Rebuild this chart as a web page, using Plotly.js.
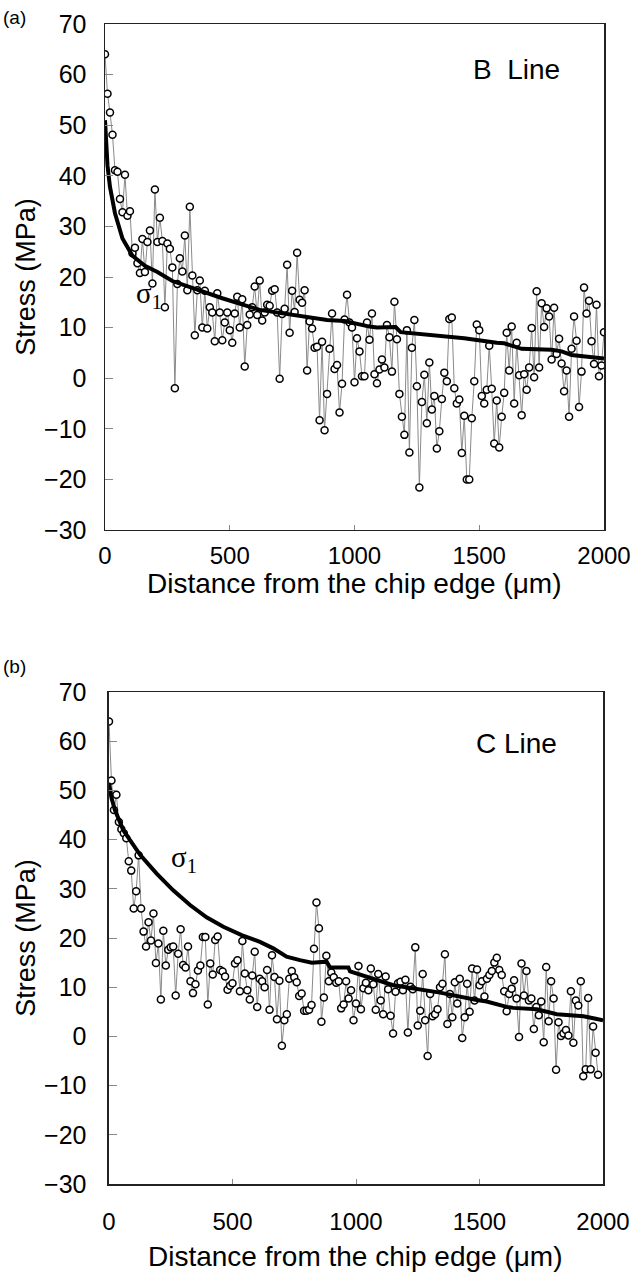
<!DOCTYPE html>
<html>
<head>
<meta charset="utf-8">
<script src="https://cdn.plot.ly/plotly-3.0.1.min.js"></script>
<style>html,body{margin:0;padding:0;background:#fff;}#chart{width:634px;height:1285px;}</style>
</head>
<body>
<div id="chart"></div>
<script>
// Distance from the chip edge (µm) at each measurement point
const distance = [
  0,10,20,30,40,50,60,70,80,90,
  100,110,120,130,140,150,160,170,180,190,
  200,210,220,230,240,250,260,270,280,290,
  300,310,320,330,340,350,360,370,380,390,
  400,410,420,430,440,450,460,470,480,490,
  500,510,520,530,540,550,560,570,580,590,
  600,610,620,630,640,650,660,670,680,690,
  700,710,720,730,740,750,760,770,780,790,
  800,810,820,830,840,850,860,870,880,890,
  900,910,920,930,940,950,960,970,980,990,
  1000,1010,1020,1030,1040,1050,1060,1070,1080,1090,
  1100,1110,1120,1130,1140,1150,1160,1170,1180,1190,
  1200,1210,1220,1230,1240,1250,1260,1270,1280,1290,
  1300,1310,1320,1330,1340,1350,1360,1370,1380,1390,
  1400,1410,1420,1430,1440,1450,1460,1470,1480,1490,
  1500,1510,1520,1530,1540,1550,1560,1570,1580,1590,
  1600,1610,1620,1630,1640,1650,1660,1670,1680,1690,
  1700,1710,1720,1730,1740,1750,1760,1770,1780,1790,
  1800,1810,1820,1830,1840,1850,1860,1870,1880,1890,
  1900,1910,1920,1930,1940,1950,1960,1970,1980,1990,
  2000
];

// (a) B Line measured stress (MPa)
const stressB = [
  64.0,56.2,52.5,48.1,41.1,40.8,35.4,32.8,40.2,32.1,
  33.0,24.7,25.8,22.7,20.8,27.5,21.0,26.9,29.2,18.7,
  37.3,26.9,31.7,27.1,14.0,26.6,25.6,21.9,-2.0,18.6,
  23.7,21.1,28.2,17.4,33.9,20.3,8.5,17.4,19.3,10.0,
  17.3,9.8,14.0,13.0,7.3,16.8,13.0,7.5,11.0,13.0,
  9.5,7.0,12.8,16.1,10.0,15.6,2.3,10.5,12.6,14.0,
  18.1,12.5,19.3,11.4,13.0,14.5,14.3,17.3,17.6,13.0,
  -0.1,12.7,13.7,22.4,9.0,17.3,13.1,24.8,15.5,14.9,
  17.4,1.5,11.2,9.8,6.0,6.2,-8.3,7.2,-10.3,-3.1,
  5.8,12.8,1.8,2.6,-6.8,-1.1,11.6,16.5,11.0,10.0,
  -0.8,7.9,5.3,0.4,0.4,11.0,7.6,12.8,0.8,-1.0,
  1.7,3.7,2.1,10.5,8.1,1.3,15.1,7.7,-3.1,-7.6,
  -11.2,9.5,-14.7,6.0,11.5,-1.6,-21.6,-4.7,0.7,-8.9,
  3.1,-6.2,-3.5,-13.9,-10.5,-4.1,1.1,-0.6,11.7,12.0,
  -2.0,-5.0,-4.2,-14.8,-7.4,-20.0,-20.0,-7.9,-0.6,10.6,
  9.5,-3.5,-5.0,-2.3,6.4,-2.1,-12.9,-4.4,-13.7,-7.6,
  -2.9,9.0,1.5,10.2,-5.0,7.0,0.6,-7.3,0.8,-2.3,
  2.1,9.9,0.2,17.2,2.1,14.8,10.1,13.8,12.2,3.7,
  13.9,4.8,7.8,2.9,-2.6,1.5,-7.6,5.8,12.2,7.4,
  -5.7,1.3,17.9,12.8,15.3,7.3,2.8,14.5,0.4,2.5,
  9.1
];

// (b) C Line measured stress (MPa)
const stressC = [
  64.0,52.0,46.0,49.1,43.6,42.1,41.3,40.3,35.6,33.7,
  26.0,29.5,36.8,26.0,21.3,18.3,23.2,19.5,25.0,14.9,
  18.9,7.5,21.5,14.4,17.6,18.1,18.3,8.3,16.8,21.8,
  14.5,14.0,18.3,11.2,8.8,10.6,13.4,14.4,20.2,20.2,
  6.5,14.8,12.6,19.6,20.3,13.5,13.2,12.2,9.5,10.3,
  10.8,14.8,15.5,9.2,19.4,12.8,9.4,7.5,12.4,17.2,
  6.0,11.7,11.2,10.0,13.5,5.4,16.5,12.1,3.5,11.3,
  -1.9,3.3,4.5,11.7,13.3,12.0,11.0,8.2,8.7,5.2,
  5.2,5.4,6.4,17.8,27.2,22.0,3.0,7.9,16.4,11.2,
  13.0,12.0,10.9,11.2,5.7,6.5,11.2,7.7,9.4,3.3,
  6.7,14.3,5.5,9.8,10.9,9.4,13.8,10.6,5.4,12.7,
  7.3,4.5,12.2,9.6,4.2,0.6,9.1,10.8,11.1,9.4,
  11.5,0.8,10.1,9.6,18.1,2.2,5.2,12.7,3.3,-4.0,
  8.6,4.1,4.5,5.5,10.0,10.7,16.7,2.5,8.6,3.9,
  11.0,6.7,11.7,-0.3,3.9,10.7,5.0,13.8,7.3,13.6,
  10.4,11.2,8.1,11.7,12.5,13.3,15.0,16.0,13.5,12.5,
  9.2,5.1,8.6,9.7,11.4,7.7,-0.1,14.8,8.3,13.3,
  7.3,7.7,1.5,6.0,4.3,7.1,-1.2,14.1,3.1,11.2,
  7.7,-6.8,2.9,0.1,0.6,1.3,0.2,9.2,-1.3,7.3,
  6.3,11.2,-8.1,-6.7,7.8,-6.7,2.0,-3.3,-7.8
];

// sigma_1 curves
const sigmaB_x = [0,5,10,20,40,70,110,160,210,270,340,470,620,700,800,890,960,1000,1030,1060,1090,1150,1165,1185,1300,1440,1570,1600,1670,1790,1830,1870,2000];
const sigmaB_y = [51,46,42,37.8,32.6,27.6,24.2,22.2,21.0,19.2,18.0,15.8,13.5,12.9,12.2,11.5,11.3,10.8,10.5,10.2,10.0,10.2,10.1,9.1,8.5,7.9,7.0,6.9,5.8,5.6,5.3,4.6,3.9];
const sigmaC_x = [0,10,24,58,126,193,260,328,395,463,537,611,665,719,773,821,881,888,895,969,976,1151,1340,1489,1529,1610,1637,1732,1813,1921,2000];
const sigmaC_y = [51.5,48.5,46.0,41.9,36.9,33.1,29.7,26.7,24.2,22.3,20.6,19.2,17.9,16.2,15.5,15.0,15.2,14.5,14.0,14.0,13.2,10.4,8.9,7.4,7.1,6.0,5.8,5.5,4.5,4.1,3.3];

const xTicks = [0,500,1000,1500,2000];
const yTicks = [-30,-20,-10,0,10,20,30,40,50,60,70];
const xTitle = 'Distance from the chip edge (μm)';
const yTitle = 'Stress (MPa)';

const FONT = 'Liberation Sans, Arial, Helvetica, sans-serif';
const SERIF = 'Liberation Serif, Times New Roman, serif';
const pointStyle = {
  mode: 'lines+markers',
  line: {color: '#8a8a8a', width: 1},
  marker: {symbol: 'circle', size: 7, color: '#ffffff', line: {color: '#000000', width: 1.5}},
  hoverinfo: 'x+y', showlegend: false
};
const curveStyle = {mode: 'lines', line: {color: '#000000', width: 4}, showlegend: false};

const traces = [
  Object.assign({x: distance, y: stressB, xaxis: 'x', yaxis: 'y', name: 'B Line'}, pointStyle),
  Object.assign({x: sigmaB_x, y: sigmaB_y, xaxis: 'x', yaxis: 'y', name: 'σ1 (B)'}, curveStyle),
  Object.assign({x: distance.slice(0, stressC.length), y: stressC, xaxis: 'x2', yaxis: 'y2', name: 'C Line'}, pointStyle),
  Object.assign({x: sigmaC_x, y: sigmaC_y, xaxis: 'x2', yaxis: 'y2', name: 'σ1 (C)'}, curveStyle)
];

function xAxis(domain, anchor, standoff) {
  return {
    domain: domain, anchor: anchor, range: [0, 2000], tickvals: xTicks,
    ticks: 'inside', ticklen: 5, tickcolor: '#888', tickwidth: 1,
    showline: true, mirror: true, linecolor: '#222', linewidth: 1.5,
    showgrid: false, zeroline: false,
    tickfont: {family: FONT, size: 24, color: '#000'},
    ticklabelstandoff: standoff
  };
}
function yAxis(domain, anchor, standoff) {
  return {
    domain: domain, anchor: anchor, range: [-30, 70], tickvals: yTicks,
    ticks: 'inside', ticklen: 8, tickcolor: '#888', tickwidth: 1,
    showline: true, mirror: true, linecolor: '#222', linewidth: 1.5,
    showgrid: false, zeroline: false,
    tickfont: {family: FONT, size: 25, color: '#000'},
    ticklabelstandoff: standoff,
    title: {text: yTitle, font: {family: FONT, size: 27, color: '#000'}, standoff: 0}
  };
}

const layout = {
  width: 634, height: 1285,
  margin: {l: 105, r: 30, t: 24, b: 101},
  paper_bgcolor: '#ffffff', plot_bgcolor: '#ffffff',
  font: {family: FONT, color: '#000'},
  xaxis: xAxis([0, 1], 'y', 4),
  yaxis: yAxis([0.5638, 1], 'x', 12),
  xaxis2: xAxis([0.008, 0.998], 'y2', 16),
  yaxis2: yAxis([0, 0.4241], 'x2', 16),
  annotations: [
    {xref: 'paper', yref: 'paper', x: 0.499, y: 0.5181, xanchor: 'center', yanchor: 'middle', text: xTitle, showarrow: false, font: {family: FONT, size: 28, color: '#000'}},
    {xref: 'paper', yref: 'paper', x: 0.503, y: -0.0621, xanchor: 'center', yanchor: 'middle', text: xTitle, showarrow: false, font: {family: FONT, size: 28, color: '#000'}},
    {xref: 'x', yref: 'y', x: 1650, y: 61, text: 'B  Line', showarrow: false, font: {family: FONT, size: 28, color: '#000'}},
    {xref: 'x2', yref: 'y2', x: 1650, y: 59.5, text: 'C Line', showarrow: false, font: {family: FONT, size: 28, color: '#000'}},
    {xref: 'x', yref: 'y', x: 175, y: 16.5, text: 'σ<sub>1</sub>', showarrow: false, font: {family: SERIF, size: 29, color: '#000'}},
    {xref: 'x2', yref: 'y2', x: 305, y: 36, text: 'σ<sub>1</sub>', showarrow: false, font: {family: SERIF, size: 29, color: '#000'}},
    {xref: 'paper', yref: 'paper', x: -0.182, y: 1.006, xanchor: 'center', yanchor: 'middle', text: '(a)', showarrow: false, font: {family: FONT, size: 19, color: '#000'}},
    {xref: 'paper', yref: 'paper', x: -0.182, y: 0.4457, xanchor: 'center', yanchor: 'middle', text: '(b)', showarrow: false, font: {family: FONT, size: 19, color: '#000'}}
  ]
};

Plotly.newPlot('chart', traces, layout, {displayModeBar: false, staticPlot: true});
</script>
</body>
</html>
